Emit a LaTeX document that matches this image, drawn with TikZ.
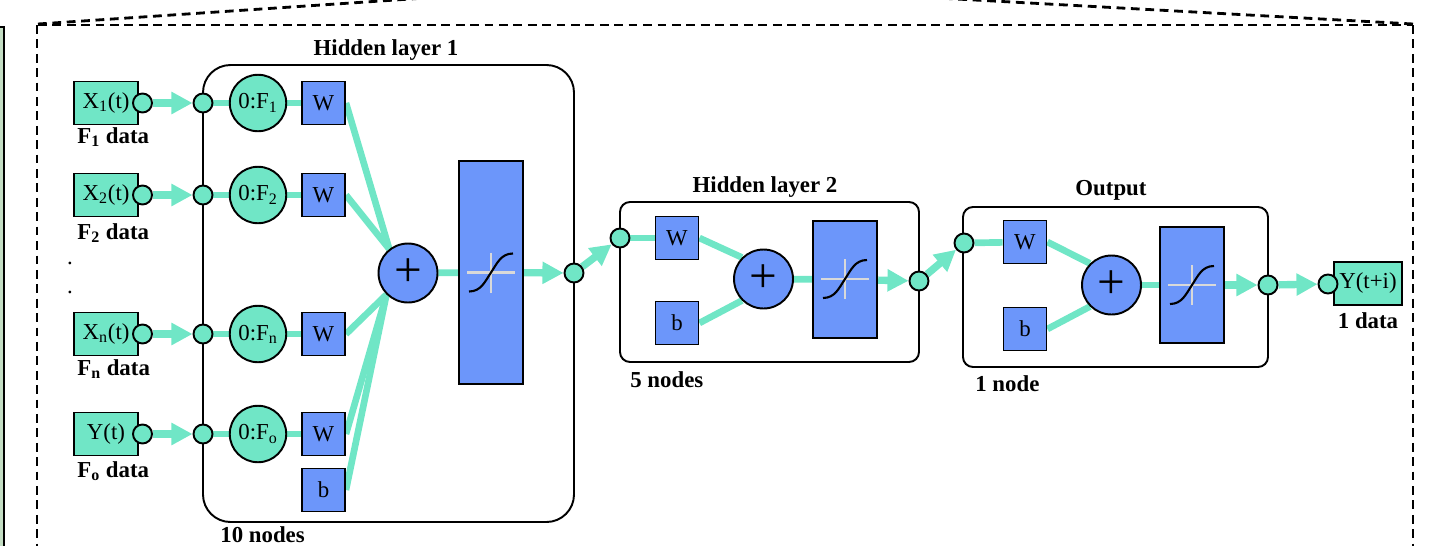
\documentclass[tikz,border=0pt]{standalone}
\usepackage{fontspec}
\setmainfont{Liberation Serif}
\usetikzlibrary{arrows.meta,backgrounds}

\definecolor{mint}{RGB}{112,230,198}
\definecolor{cornflower}{RGB}{108,150,250}
\definecolor{leftover}{RGB}{196,222,196}

\tikzset{
	txt/.style = {font=\fontsize{13}{15}\selectfont},
	lbl/.style = {font=\bfseries\fontsize{13}{15}\selectfont, inner sep=0pt},
	databox/.style = {draw, line width=1.1pt, fill=mint, minimum width=1.28cm, minimum height=0.86cm, inner sep=0pt, txt},
	port/.style = {draw, circle, line width=1.1pt, fill=mint, minimum size=0.38cm, inner sep=0pt},
	tapped/.style = {draw, circle, line width=1.1pt, fill=mint, minimum size=1.13cm, inner sep=0pt, txt},
	weight/.style = {draw, line width=1.1pt, fill=cornflower, minimum size=0.86cm, inner sep=0pt, txt},
	summer/.style = {draw, circle, line width=1.1pt, fill=cornflower, minimum size=1.18cm, inner sep=0pt, font=\fontsize{28}{28}\selectfont},
	transfer/.style = {draw, line width=1.1pt, fill=cornflower, minimum width=1.29cm, inner sep=0pt},
	layerbox/.style = {draw, line width=1.1pt},
	link/.style = {mint, line width=3.8pt},
	flow/.style = {mint, line width=4.2pt, -{Triangle[length=12pt,width=12pt]}},
	frame/.style = {line width=1.6pt, dash pattern=on 5pt off 3.2pt}
}

% sigmoid glyph drawn inside a transfer block
\newcommand{\sigmoidmark}[1]{
	\begin{scope}[shift={(#1)}]
		\draw[white!85!black, line width=1.2pt] (-24,0) -- (24,0);
		\draw[white!85!black, line width=1.2pt] (0,-20) -- (0,20);
		\draw[line width=1.2pt] (-22,19) .. controls (-10,19) and (-6,9) .. (0,0)
			.. controls (6,-9) and (10,-19) .. (22,-19);
	\end{scope}
}

\begin{document}
\begin{tikzpicture}[x=0.02cm, y=-0.02cm]

	\useasboundingbox (0,0) rectangle (1431,545);
	\clip (0,0) rectangle (1431,545);

	% edge of the neighbouring panel and the zoom frame
	\draw[line width=0.8pt, fill=leftover] (-20,27) rectangle (4,560);
	\draw[frame] (38,25) -- (1413,25);
	\draw[frame] (37,25) -- (37,560);
	\draw[frame] (1413,25) -- (1413,560);
	\draw[frame] (38,24) -- (440,-3);
	\draw[frame] (1413,24) -- (920,-3);

	% layer frames
	\draw[layerbox, rounded corners=0.55cm] (203,65) rectangle (574,522);
	\draw[layerbox, rounded corners=0.2cm] (620,202) rectangle (919,362);
	\draw[layerbox, rounded corners=0.2cm] (963,207) rectangle (1268,367);

	\node[lbl] (L1) at (386,50) {Hidden layer 1};
	\node[lbl] (L2) at (765,187) {Hidden layer 2};
	\node[lbl] (L3) at (1111,190) {Output};
	\node[lbl, anchor=west] (n1) at (220,535) {10 nodes};
	\node[lbl, anchor=west] (n2) at (630,380) {5 nodes};
	\node[lbl, anchor=west] (n3) at (975,384) {1 node};

	% inputs
	\node[databox] (X1) at (106,103) {X\textsubscript{1}(t)};
	\node[databox] (X2) at (106,195) {X\textsubscript{2}(t)};
	\node[databox] (Xn) at (106,334) {X\textsubscript{n}(t)};
	\node[databox] (Y0) at (106,434) {Y(t)};
	\node[port] (p1) at (142.5,103) {};
	\node[port] (p2) at (142.5,195) {};
	\node[port] (pn) at (142.5,334) {};
	\node[port] (p0) at (142.5,434) {};
	\node[lbl, anchor=west] (d1) at (77,137) {F\textsubscript{1} data};
	\node[lbl, anchor=west] (d2) at (77,233) {F\textsubscript{2} data};
	\node[lbl, anchor=west] (dn) at (77,369) {F\textsubscript{n} data};
	\node[lbl, anchor=west] (d0) at (77,471) {F\textsubscript{o} data};
	\node[txt, inner sep=0pt] (dotA) at (70,263) {.};
	\node[txt, inner sep=0pt] (dotB) at (70,292) {.};

	% hidden layer 1
	\node[port] (i1) at (203,103) {};
	\node[port] (i2) at (203,195) {};
	\node[port] (in) at (203,334) {};
	\node[port] (i0) at (203,434) {};
	\node[tapped] (F1) at (258,103) {0:F\textsubscript{1}};
	\node[tapped] (F2) at (258,195) {0:F\textsubscript{2}};
	\node[tapped] (Fn) at (258,334) {0:F\textsubscript{n}};
	\node[tapped] (F0) at (258,434) {0:F\textsubscript{o}};
	\node[weight] (W1) at (323.5,103) {W};
	\node[weight] (W2) at (323.5,195) {W};
	\node[weight] (Wn) at (323.5,334) {W};
	\node[weight] (W0) at (323.5,434) {W};
	\node[weight] (b1) at (323.5,490) {b};
	\node[summer] (S1) at (408,273) {+};
	\node[transfer, minimum height=4.46cm] (T1) at (491,272.5) {};
	\node[port] (o1) at (574,273) {};

	% hidden layer 2
	\node[port] (i5) at (620,238) {};
	\node[weight] (W5) at (677,238) {W};
	\node[weight] (b2) at (677,323) {b};
	\node[summer] (S2) at (763.5,279) {+};
	\node[transfer, minimum height=2.34cm] (T2) at (845,279.5) {};
	\node[port] (o2) at (919,281) {};

	% output layer
	\node[port] (i6) at (964,243) {};
	\node[weight] (W6) at (1025,242) {W};
	\node[weight] (b3) at (1025,329) {b};
	\node[summer] (S3) at (1111.5,285) {+};
	\node[transfer, minimum height=2.32cm] (T3) at (1192,285) {};
	\node[port] (o3) at (1268,285) {};

	\node[databox, minimum width=1.36cm] (Yout) at (1368,283.5) {Y(t+i)};
	\node[port] (py) at (1328,284) {};
	\node[lbl] (d9) at (1368,321) {1 data};

	\sigmoidmark{491,272.5}
	\sigmoidmark{845,279}
	\sigmoidmark{1192,285}

	\begin{scope}[on background layer]
		\draw[flow] (p1) -- (i1);
		\draw[flow] (p2) -- (i2);
		\draw[flow] (pn) -- (in);
		\draw[flow] (p0) -- (i0);

		\draw[link] (i1) -- (F1) -- (W1);
		\draw[link] (i2) -- (F2) -- (W2);
		\draw[link] (in) -- (Fn) -- (Wn);
		\draw[link] (i0) -- (F0) -- (W0);

		\draw[link] (W1.east) -- (S1.128);
		\draw[link] (W2.east) -- (S1.128);
		\draw[link] (Wn.east) -- (S1.225);
		\draw[link] (W0.east) -- (S1.225);
		\draw[link] (b1.east) -- (S1.225);
		\draw[link] (S1) -- (T1);
		\draw[flow] (T1) -- (o1);
		\draw[flow] (o1) -- (i5);

		\draw[link] (i5) -- (W5);
		\draw[link] (W5.east) -- (S2.135);
		\draw[link] (b2.east) -- (S2.225);
		\draw[link] (S2) -- (T2);
		\draw[flow] (T2) -- (o2);
		\draw[flow] (o2) -- (i6);

		\draw[link] (i6) -- (W6);
		\draw[link] (W6.east) -- (S3.135);
		\draw[link] (b3.east) -- (S3.225);
		\draw[link] (S3) -- (T3);
		\draw[flow] (T3) -- (o3);
		\draw[flow] (o3) -- (py);
	\end{scope}

\end{tikzpicture}
\end{document}
